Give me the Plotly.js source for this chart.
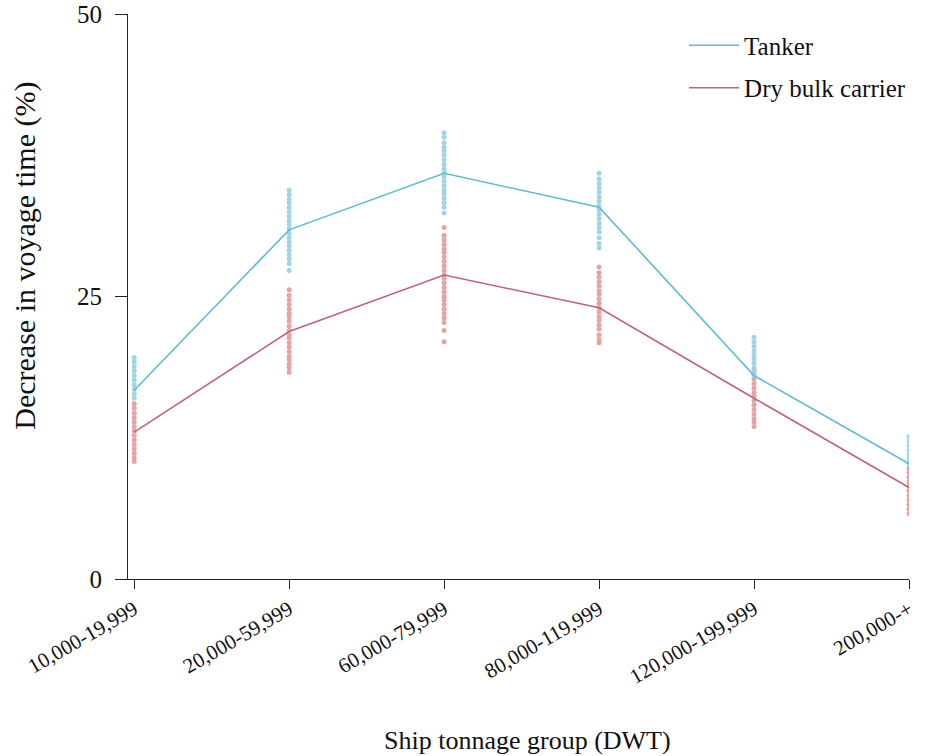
<!DOCTYPE html>
<html>
<head>
<meta charset="utf-8">
<script src="https://cdn.plot.ly/plotly-3.0.1.min.js"></script>
<style>html,body{margin:0;padding:0;background:#fff;}#chart{width:927px;height:756px;}</style>
</head>
<body>
<div id="chart"></div>
<script>
const categories = ["10,000-19,999","20,000-59,999","60,000-79,999","80,000-119,999","120,000-199,999","200,000-+"];
const tankerMean = [16.7, 30.9, 35.9, 32.9, 18.0, 10.2];
const dryBulkMean = [13.0, 21.9, 26.9, 24.0, 16.0, 8.1];

const tankerDots = [
  [19.6,19.2,18.8,18.4,18.0,17.6,17.2,16.8,16.4,16.0],
  [34.4,34.0,33.6,33.3,32.9,32.5,32.1,31.7,31.4,31.0,30.6,30.2,29.8,29.5,29.1,28.7,28.3,27.9,27.3],
  [39.5,39.1,38.6,38.2,37.9,37.5,37.1,36.7,36.3,36.0,35.6,35.2,34.8,34.4,34.1,33.7,33.3,32.9,32.4],
  [35.9,35.4,35.0,34.6,34.2,33.8,33.4,33.0,32.7,32.3,31.9,31.5,31.1,30.7,30.2,29.7,29.3],
  [21.4,21.0,20.6,20.2,19.8,19.5,19.1,18.7,18.3,18.0],
  [12.6,12.2,11.8,11.4,11.0,10.6,10.2]
];
const dryBulkDots = [
  [15.5,15.1,14.7,14.3,13.9,13.5,13.1,12.7,12.3,11.9,11.5,11.1,10.7,10.4],
  [25.6,25.1,24.7,24.3,23.9,23.5,23.2,22.8,22.4,22.0,21.6,21.3,20.9,20.5,20.1,19.7,19.4,19.0,18.7,18.3],
  [31.1,30.4,30.0,29.6,29.2,28.9,28.5,28.1,27.7,27.3,26.9,26.6,26.2,25.8,25.4,25.0,24.7,24.3,23.9,23.5,23.1,22.7,22.0,21.0],
  [27.6,27.1,26.7,26.3,25.9,25.5,25.2,24.8,24.4,24.0,23.6,23.2,22.9,22.5,22.1,21.6,21.2,20.9],
  [18.5,18.1,17.7,17.3,16.9,16.5,16.2,15.8,15.4,15.0,14.6,14.2,13.9,13.5],
  [9.8,9.4,9.0,8.6,8.2,7.8,7.4,7.0,6.6,6.2,5.8]
];
const xTitle = 'Ship tonnage group (DWT)';
const yTitle = 'Decrease in voyage time (%)';

function flatten(dots){
  const xs=[], ys=[];
  dots.forEach((arr,i)=>arr.forEach(v=>{xs.push(categories[i]); ys.push(v);}));
  return {xs, ys};
}
const td = flatten(tankerDots), dd = flatten(dryBulkDots);
const FONT = "Liberation Serif, Times New Roman, serif";

const traces = [
  {x: dd.xs, y: dd.ys, type:'scatter', mode:'markers', showlegend:false, hoverinfo:'skip',
   marker:{size:5, color:'#e5a3a1'}},
  {x: td.xs, y: td.ys, type:'scatter', mode:'markers', showlegend:false, hoverinfo:'skip',
   marker:{size:5, color:'#9fd4e5'}},
  {x: categories, y: tankerMean, type:'scatter', mode:'lines', name:'Tanker', legendgroup:'a',
   line:{color:'#5bbdd3', width:1.6}},
  {x: categories, y: dryBulkMean, type:'scatter', mode:'lines', name:'Dry bulk carrier', legendgroup:'b',
   line:{color:'#c2627b', width:1.6}}
];

const layout = {
  width: 927, height: 756,
  margin: {l:128, r:18, t:14, b:177},
  paper_bgcolor:'#fff', plot_bgcolor:'#fff',
  font: {family: FONT, color:'#111'},
  showlegend: true,
  legend: {x: 0.712, y: 0.985, xanchor:'left', yanchor:'top', bgcolor:'rgba(0,0,0,0)',
    itemwidth: 50,
    font:{family: FONT, size:25, color:'#111'}, traceorder:'grouped', tracegroupgap:7},
  xaxis: {
    type:'category', categoryorder:'array', categoryarray: categories,
    range:[-0.04, 5.0], showgrid:false, zeroline:false,
    showline:true, linecolor:'#222', linewidth:1,
    ticks:'outside', ticklen:9, tickcolor:'#222',
    tickangle:-30, tickfont:{family: FONT, size:21, color:'#111'},
    automargin:false
  },
  yaxis: {
    range:[0,50], tickvals:[0,25,50], ticktext:['0','25','50'],
    showgrid:false, zeroline:false, showline:true, linecolor:'#222', linewidth:1,
    ticks:'outside', ticklen:12, tickcolor:'#222', ticklabelstandoff:8,
    tickfont:{family: FONT, size:25, color:'#111'},
    automargin:false
  },
  annotations: [
    {text: xTitle, xref:'paper', yref:'paper', x:0.511, y:-0.285, xanchor:'center', yanchor:'middle',
     showarrow:false, font:{family: FONT, size:26, color:'#111'}},
    {text: yTitle, xref:'paper', yref:'paper', x:-0.132, y:0.572, xanchor:'center', yanchor:'middle',
     textangle:-90, showarrow:false, font:{family: FONT, size:30, color:'#111'}}
  ]
};

Plotly.newPlot('chart', traces, layout, {displayModeBar:false, staticPlot:true});
</script>
</body>
</html>
